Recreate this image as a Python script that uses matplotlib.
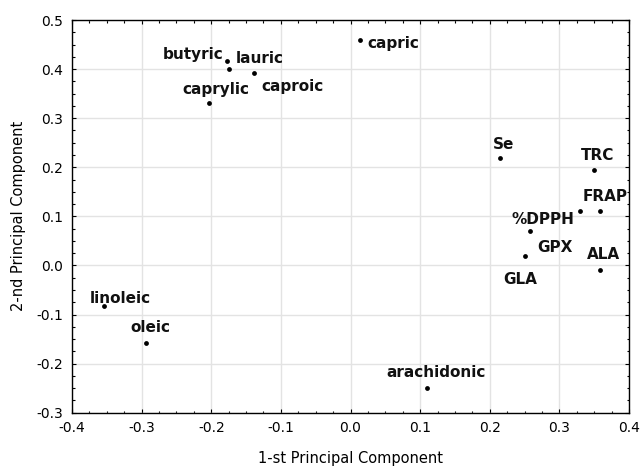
import matplotlib
matplotlib.use("Agg")
import matplotlib.pyplot as plt
from matplotlib.ticker import MultipleLocator, FormatStrFormatter

# ---- data ----
labels = ["capric", "butyric", "lauric", "caproic", "caprylic",
          "Se", "TRC", "FRAP", "GPX", "%DPPH", "GLA", "ALA",
          "linoleic", "oleic", "arachidonic"]
pc1 = [0.013, -0.178, -0.174, -0.138, -0.203,
       0.215, 0.350, 0.359, 0.329, 0.258, 0.251, 0.359,
       -0.354, -0.293, 0.110]
pc2 = [0.459, 0.417, 0.401, 0.392, 0.331,
       0.219, 0.194, 0.111, 0.111, 0.070, 0.019, -0.010,
       -0.083, -0.157, -0.249]

# label offsets (pixels) from each point, style only
offsets = [(34, -8), (-33, 2), (30, 5.4), (37.6, -17.7), (6.8, 9.4),
           (3.7, 9.4), (3.5, 10.3), (4.9, 10), (-25, -41), (12.5, 7),
           (-5.4, -28), (2.9, 11),
           (16.3, 2.7), (4, 10.6), (8.8, 10.4)]

fig = plt.figure(figsize=(6.41, 4.67), dpi=100)
ax = fig.add_axes([72/641, 1-412.7/467, (629-72)/641, (412.7-20)/467])

ax.scatter(pc1, pc2, s=12, color="black", zorder=3, linewidths=0)
for lab, x, y, off in zip(labels, pc1, pc2, offsets):
    ax.annotate(lab, (x, y), xytext=off, textcoords="offset pixels",
                ha="center", va="baseline", fontsize=11, fontweight="bold",
                color="#111111", zorder=4)

ax.set_xlim(-0.4, 0.4)
ax.set_ylim(-0.3, 0.5)
ax.xaxis.set_major_locator(MultipleLocator(0.1))
ax.yaxis.set_major_locator(MultipleLocator(0.1))
ax.xaxis.set_minor_locator(MultipleLocator(0.025))
ax.yaxis.set_minor_locator(MultipleLocator(0.025))
ax.xaxis.set_major_formatter(FormatStrFormatter("%.1f"))
ax.yaxis.set_major_formatter(FormatStrFormatter("%.1f"))
ax.tick_params(which="both", direction="in", top=True, right=True,
               color="black", width=0.8)
ax.tick_params(which="major", length=3, labelsize=10, colors="black")
ax.tick_params(axis="x", which="major", pad=6.0)
ax.tick_params(axis="y", which="major", pad=6.6)
ax.tick_params(which="minor", length=1.8)
ax.grid(True, which="major", color="#e3e3e3", linewidth=1.0, zorder=0)
ax.set_axisbelow(True)
for sp in ax.spines.values():
    sp.set_linewidth(1.0)
    sp.set_color("black")

ax.set_xlabel("1-st Principal Component", fontsize=10.5, labelpad=11.5)
ax.set_ylabel("2-nd Principal Component", fontsize=10.5, labelpad=7.5)

fig.savefig("out.png", dpi=100)
